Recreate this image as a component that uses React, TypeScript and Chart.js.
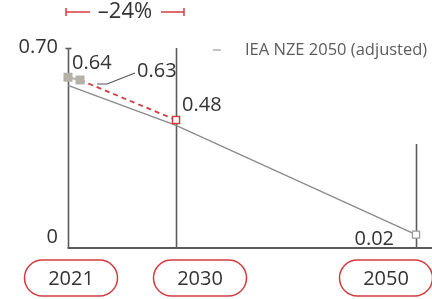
import React, { useEffect, useRef } from "react";
import { Chart, registerables } from "chart.js";

Chart.register(...registerables);

const axisYears = [2021, 2030, 2050];
const axisLabels = ["2021", "2030", "2050"];
const yTickLabels = ["0", "0.70"];

const actualYears = [2021, 2022];
const actualValues = [0.64, 0.63];

const targetYears = [2022, 2030];
const targetValues = [0.63, 0.48];

const ieaYears = [2021, 2030, 2050];
const ieaValues = [0.61, 0.46, 0.05];

const pointLabels = ["0.64", "0.63", "0.48", "0.02"];
const changeLabel = "–24%";
const legendLabel = "IEA NZE 2050 (adjusted)";

const FONT = "'Open Sans', 'Noto Sans', sans-serif";
const TEXT = "#333333";
const RED = "#d43d3f";
const GRAY_FILL = "#b4b1a7";
const LINE_GRAY = "#8a8a8a";
const AXIS = "#5a5a5a";

const decorPlugin = {
  id: "decor",
  beforeDatasetsDraw(chart: any) {
    const { ctx, chartArea, scales } = chart;
    const x = scales.x;
    const y = scales.y;
    ctx.save();
    ctx.strokeStyle = AXIS;
    ctx.lineWidth = 1.6;
    const tops = [chartArea.top, chartArea.top, y.getPixelForValue(0.39)];
    axisYears.forEach((yr, i) => {
      const px = Math.round(x.getPixelForValue(yr)) + 0.5;
      ctx.beginPath();
      ctx.moveTo(px, tops[i]);
      ctx.lineTo(px, chartArea.bottom);
      ctx.stroke();
    });
    const x0 = Math.round(x.getPixelForValue(axisYears[0])) + 0.5;
    ctx.beginPath();
    ctx.moveTo(x0 - 3, chartArea.top + 0.5);
    ctx.lineTo(x0 + 3, chartArea.top + 0.5);
    ctx.stroke();
    ctx.lineWidth = 2;
    ctx.beginPath();
    ctx.moveTo(x0 - 1, chartArea.bottom);
    ctx.lineTo(chart.width, chartArea.bottom);
    ctx.stroke();
    ctx.restore();
  },
  afterDatasetsDraw(chart: any) {
    const { ctx, chartArea, scales } = chart;
    const x = scales.x;
    const y = scales.y;
    ctx.save();
    ctx.fillStyle = TEXT;
    ctx.font = `20px ${FONT}`;
    ctx.textBaseline = "middle";

    const x0 = x.getPixelForValue(axisYears[0]);
    ctx.textAlign = "right";
    ctx.fillText(yTickLabels[0], x0 - 10, chartArea.bottom - 11);
    ctx.fillText(yTickLabels[1], x0 - 10, chartArea.top - 1);

    const pA = { x: x.getPixelForValue(actualYears[0]), y: y.getPixelForValue(actualValues[0]) };
    const pB = { x: x.getPixelForValue(actualYears[1]), y: y.getPixelForValue(actualValues[1]) };
    const pC = { x: x.getPixelForValue(targetYears[1]), y: y.getPixelForValue(targetValues[1]) };
    const pD = { x: x.getPixelForValue(ieaYears[2]), y: y.getPixelForValue(ieaValues[2]) };
    ctx.textAlign = "left";
    ctx.fillText(pointLabels[0], pA.x + 4, pA.y - 14);
    ctx.fillText(pointLabels[1], pB.x + 57, pB.y - 9);
    ctx.fillText(pointLabels[2], pC.x + 6, pC.y - 15);
    ctx.textAlign = "right";
    ctx.fillText(pointLabels[3], pD.x - 22, pD.y + 5);

    ctx.strokeStyle = "#555";
    ctx.lineWidth = 1.2;
    ctx.beginPath();
    ctx.moveTo(pB.x + 17, pB.y + 4);
    ctx.lineTo(pB.x + 27, pB.y + 4);
    ctx.lineTo(pB.x + 55, pB.y - 7);
    ctx.stroke();

    const bx1 = x0 - 2;
    const bx2 = x.getPixelForValue(axisYears[1]) + 8;
    const by = 12;
    ctx.strokeStyle = RED;
    ctx.lineWidth = 1.5;
    ctx.beginPath();
    ctx.moveTo(bx1, by);
    ctx.lineTo(bx1 + 24, by);
    ctx.moveTo(bx1, by - 4);
    ctx.lineTo(bx1, by + 4);
    ctx.moveTo(bx2 - 23, by);
    ctx.lineTo(bx2, by);
    ctx.moveTo(bx2, by - 4);
    ctx.lineTo(bx2, by + 4);
    ctx.stroke();
    ctx.textAlign = "center";
    ctx.font = `22px ${FONT}`;
    ctx.fillText(changeLabel, (bx1 + bx2) / 2, by);

    const lx = x.getPixelForValue(axisYears[1]) + 40;
    const ly = 50;
    ctx.strokeStyle = "#9a9a9a";
    ctx.lineWidth = 1.2;
    ctx.beginPath();
    ctx.moveTo(lx - 3, ly);
    ctx.lineTo(lx + 5, ly);
    ctx.stroke();
    ctx.fillStyle = "#5c5c5c";
    ctx.font = `16.5px ${FONT}`;
    ctx.textAlign = "left";
    ctx.fillText(legendLabel, lx + 29, ly);

    const offsets = [3, 24, -30];
    const pw = 93;
    const ph = 36;
    const py = chartArea.bottom + 12;
    ctx.font = `20px ${FONT}`;
    axisYears.forEach((yr, i) => {
      const cx = x.getPixelForValue(yr) + offsets[i];
      const left = cx - pw / 2;
      ctx.beginPath();
      ctx.roundRect(left, py, pw, ph, ph / 2);
      ctx.strokeStyle = RED;
      ctx.lineWidth = 1.5;
      ctx.stroke();
      ctx.fillStyle = TEXT;
      ctx.textAlign = "center";
      ctx.fillText(axisLabels[i], cx, py + ph / 2 + 1);
    });
    ctx.restore();
  },
};

export default function App() {
  const ref = useRef<HTMLCanvasElement | null>(null);
  useEffect(() => {
    if (!ref.current) return;
    const chart = new Chart(ref.current, {
      type: "line",
      data: {
        datasets: [
          {
            label: "Actual",
            data: actualYears.map((yr, i) => ({ x: yr, y: actualValues[i] })),
            borderColor: GRAY_FILL,
            backgroundColor: GRAY_FILL,
            borderWidth: 2,
            pointStyle: "rect",
            pointRadius: 5,
            pointBorderColor: GRAY_FILL,
            pointBackgroundColor: GRAY_FILL,
            clip: false,
          },
          {
            label: "Target",
            data: targetYears.map((yr, i) => ({ x: yr, y: targetValues[i] })),
            borderColor: RED,
            borderWidth: 1.8,
            borderDash: [5, 4],
            pointStyle: "rect",
            pointRadius: [0, 5],
            pointBorderWidth: 1.5,
            pointBorderColor: RED,
            pointBackgroundColor: "#ffffff",
            clip: false,
          },
          {
            label: legendLabel,
            data: ieaYears.map((yr, i) => ({ x: yr, y: ieaValues[i] })),
            borderColor: LINE_GRAY,
            borderWidth: 1.3,
            pointStyle: "rect",
            pointRadius: [0, 0, 5],
            pointBorderWidth: 1.3,
            pointBorderColor: "#9a9a9a",
            pointBackgroundColor: "#ffffff",
            clip: false,
          },
        ],
      },
      options: {
        animation: false,
        responsive: false,
        maintainAspectRatio: false,
        layout: { padding: { left: 68, right: 16, top: 48, bottom: 51 } },
        plugins: { legend: { display: false }, tooltip: { enabled: false } },
        scales: {
          x: { type: "linear", min: 2021, max: 2050, display: false },
          y: { type: "linear", min: 0, max: 0.75, display: false },
        },
      },
      plugins: [decorPlugin],
    });
    return () => chart.destroy();
  }, []);
  return (
    <div style={{ position: "fixed", left: 0, top: 0, width: 432, height: 299, background: "#fff" }}>
      <canvas ref={ref} width={432} height={299} style={{ display: "block" }} />
    </div>
  );
}
